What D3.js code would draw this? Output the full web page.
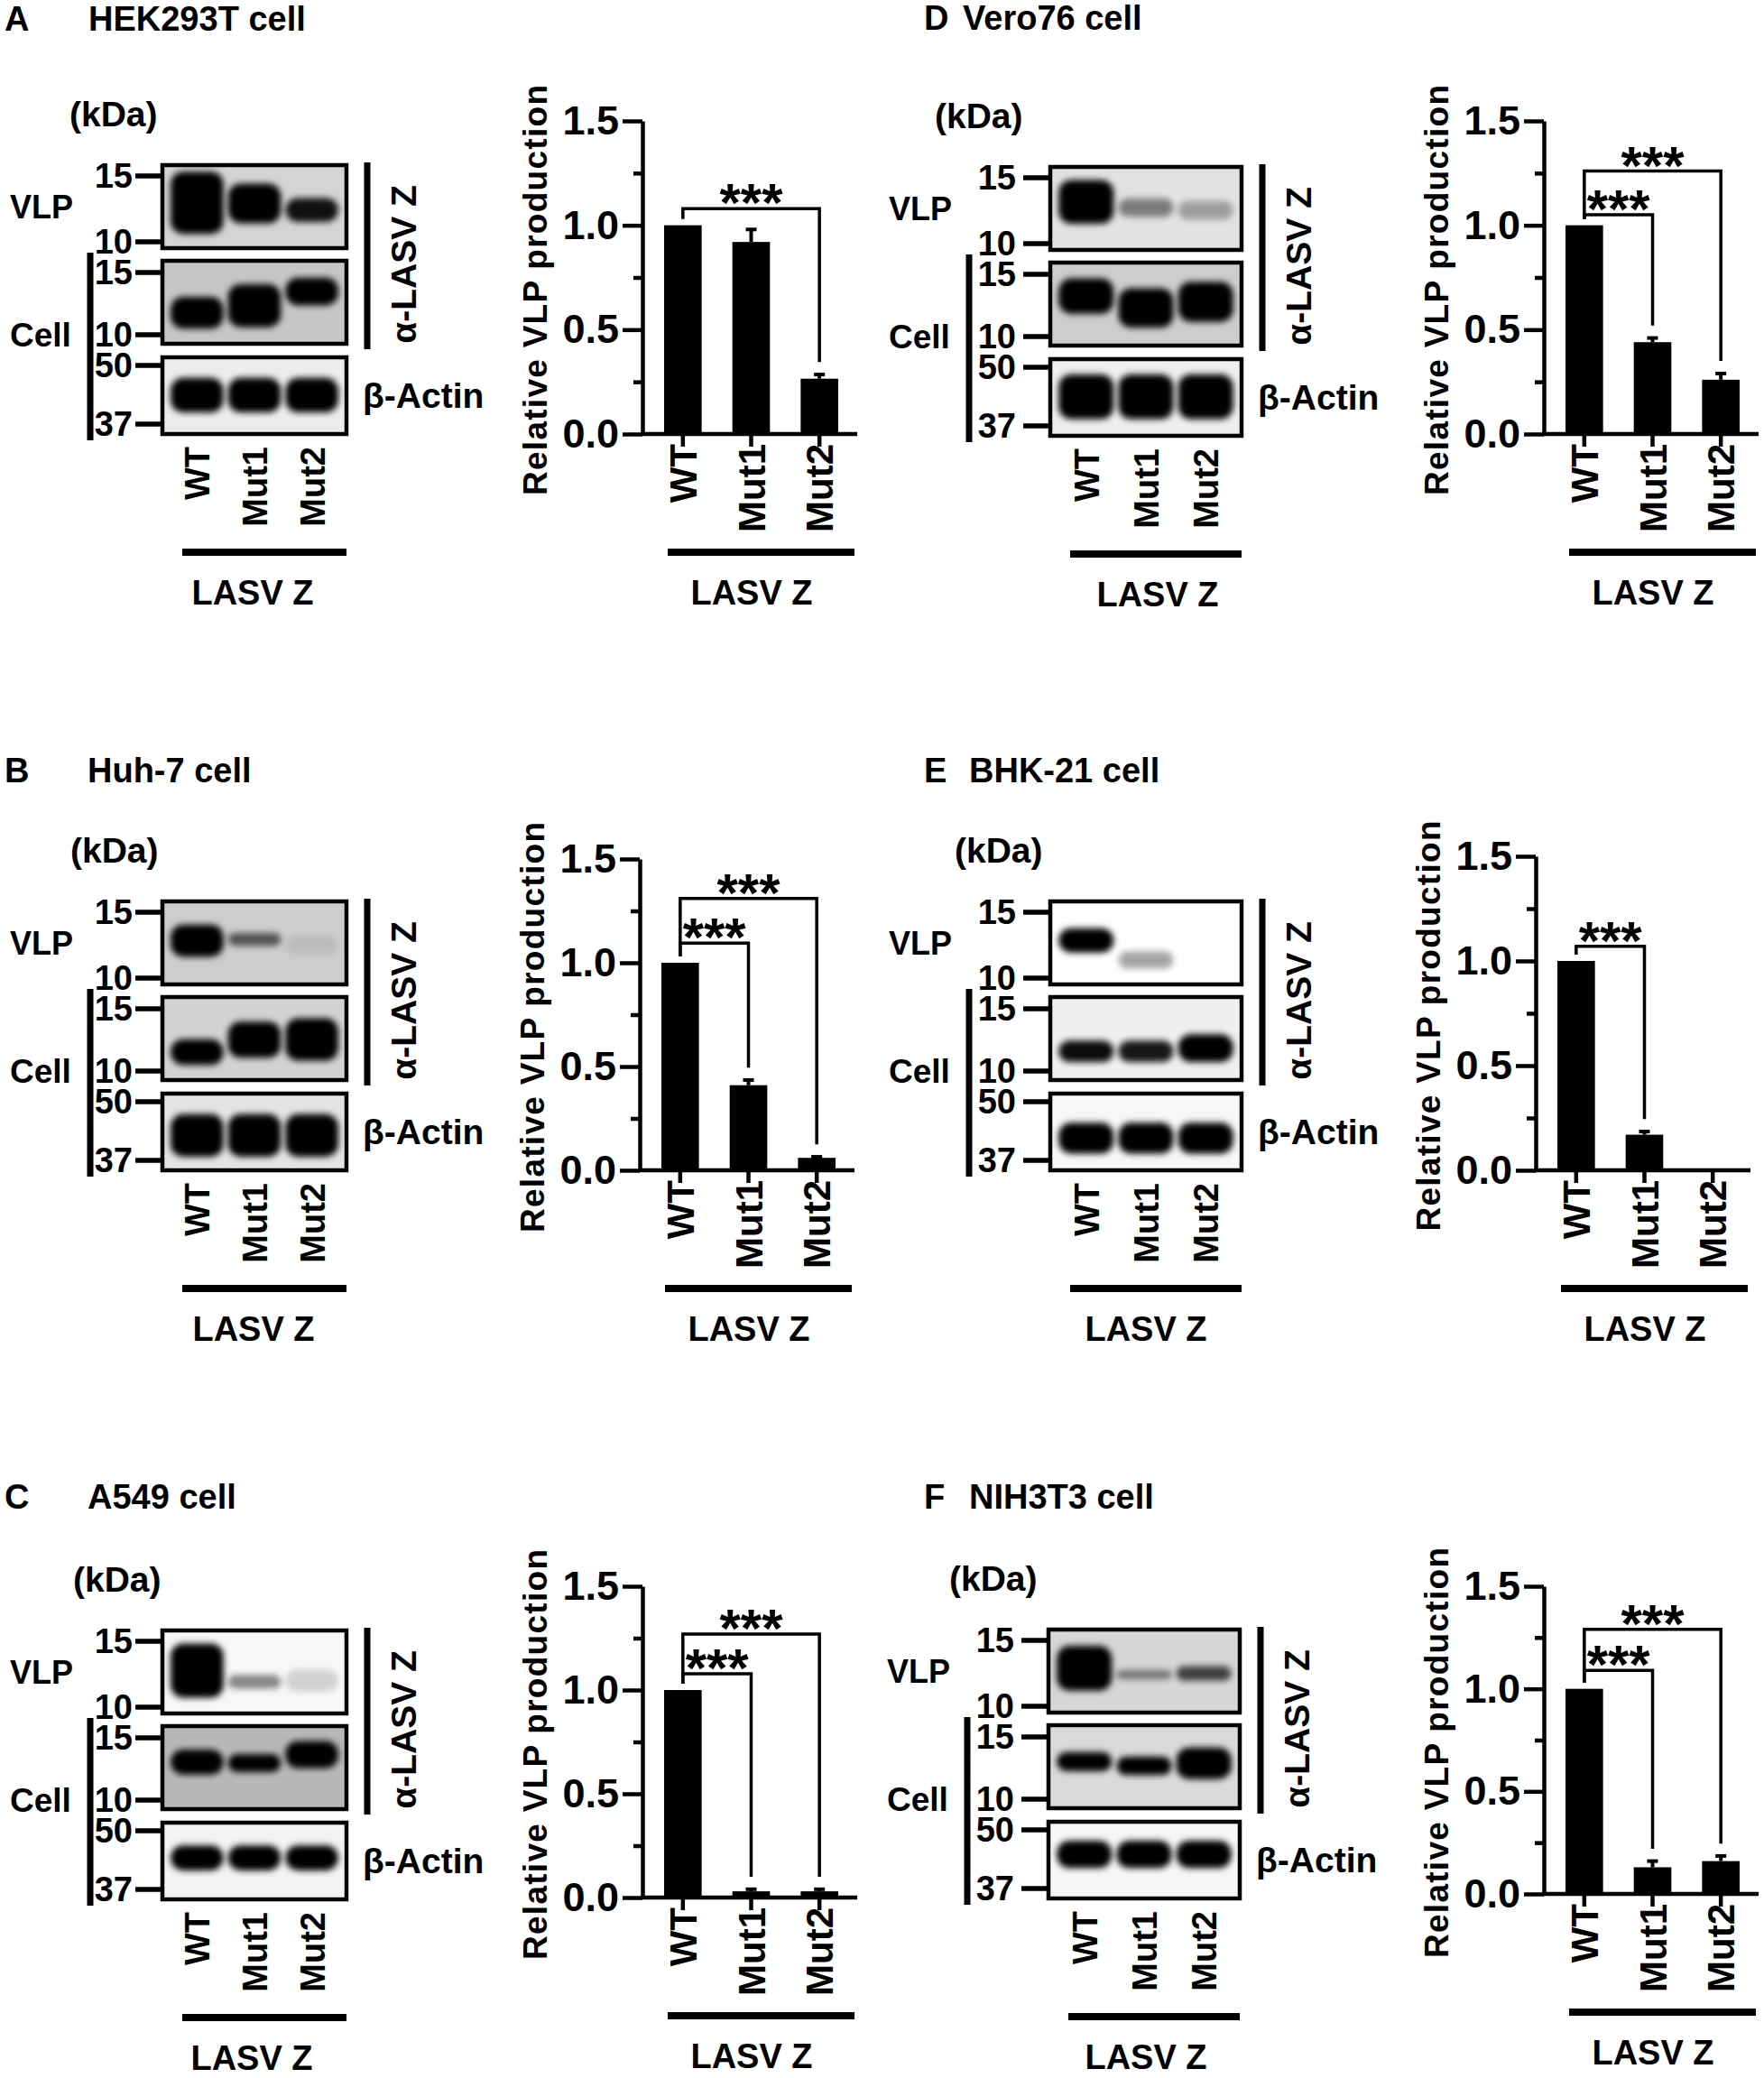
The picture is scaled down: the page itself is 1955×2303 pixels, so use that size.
<!DOCTYPE html>
<html>
<head>
<meta charset="utf-8">
<script src="https://cdn.jsdelivr.net/npm/d3@7"></script>
<style>
    body { margin: 0; background: #fff; }
    svg { display: block; }
    text { font-family: "Liberation Sans", Arial, sans-serif; font-weight: bold; fill: #000; }
</style>
</head>
<body>
<div id="figure"></div>
<script>
// ---- data ----
const lanes = ["WT", "Mut1", "Mut2"];
const panelLetters = ["A", "B", "C", "D", "E", "F"];
const cellLines = ["HEK293T cell", "Huh-7 cell", "A549 cell", "Vero76 cell", "BHK-21 cell", "NIH3T3 cell"];
const groupLabel = "LASV Z";

// relative VLP production (mean, error)
const vlpMean = [
    [1, 0.92, 0.265],
    [1, 0.41, 0.06],
    [1, 0.03, 0.03],
    [1, 0.44, 0.26],
    [1, 0.17, 0],
    [1, 0.13, 0.16]
];
const vlpErr = [
    [0, 0.06, 0.02],
    [0, 0.025, 0.005],
    [0, 0.01, 0.01],
    [0, 0.02, 0.03],
    [0, 0.015, 0],
    [0, 0.03, 0.025]
];
// [from lane, to lane, bracket level]
const comparisons = [
    [[0, 2, 1.08]],
    [[0, 1, 1.095], [0, 2, 1.31]],
    [[0, 1, 1.078], [0, 2, 1.27]],
    [[0, 1, 1.05], [0, 2, 1.26]],
    [[0, 1, 1.07]],
    [[0, 1, 1.09], [0, 2, 1.29]]
];
const signif = "***";
const yTicks = [0, 0.5, 1.0, 1.5];
const yMinorTicks = [0.25, 0.75, 1.25];

// western blots: markers (kDa) and bands per lane [top kDa, bottom kDa, intensity]
const zMarkers = [15, 10];
const actinMarkers = [50, 37];
const vlpBands = [
    [[15.4, 10.5, 1], [14.3, 11.2, 1], [13.1, 11.3, 0.92]],
    [[13.9, 11.4, 1], [13.2, 12.2, 0.6], [13.0, 11.6, 0.08]],
    [[14.8, 10.6, 1], [12.2, 11.2, 0.45], [12.6, 11.0, 0.15]],
    [[14.8, 11.3, 1], [13.2, 11.8, 0.45], [13.0, 11.6, 0.3]],
    [[13.6, 11.7, 1], [11.8, 10.6, 0.35], [12.0, 11.0, 0]],
    [[14.5, 11.0, 1], [12.5, 11.8, 0.45], [12.8, 11.7, 0.7]]
];
const cellBands = [
    [[12.8, 10.4, 1], [13.9, 10.5, 1], [14.5, 12.1, 1]],
    [[12.3, 10.4, 1], [13.8, 10.9, 1], [14.1, 10.7, 1]],
    [[13.9, 11.8, 1], [13.5, 12.0, 1], [14.7, 12.3, 1]],
    [[14.6, 11.6, 1], [13.7, 10.6, 1], [14.3, 11.0, 1]],
    [[12.2, 10.6, 0.95], [12.2, 10.6, 0.9], [12.7, 10.6, 1]],
    [[13.6, 12.0, 1], [13.2, 11.7, 1], [14.0, 11.4, 1]]
];
const actinBands = [
    [[46.9, 39.3, 1], [46.9, 39.3, 1], [46.9, 39.3, 1]],
    [[46.9, 37.7, 1], [46.9, 37.7, 1], [46.9, 37.7, 1]],
    [[46.4, 40.8, 1], [46.4, 40.8, 1], [46.4, 40.8, 1]],
    [[48.2, 38.3, 1], [48.2, 38.3, 1], [48.2, 38.3, 1]],
    [[44.9, 38.3, 1], [44.9, 38.3, 1], [44.9, 38.3, 1]],
    [[47.3, 41.1, 1], [47.3, 41.1, 1], [47.3, 41.1, 1]]
];

// ---- layout / style ----
const panels = [
    {ox: 0, oy: 0, titleY: 34, letterX: 5, titleX: 98, kdaX: 77, boxW: 204, shift: 0, lasvDx: 100, axisX: 712, top: 134, bot: 481},
    {ox: 0, oy: 816, titleY: 867, letterX: 5, titleX: 97, kdaX: 78, boxW: 204, shift: 0, lasvDx: 101, axisX: 709, top: 952, bot: 1297},
    {ox: 0, oy: 1624, titleY: 1672, letterX: 5, titleX: 97, kdaX: 81, boxW: 204, shift: 0, lasvDx: 99, axisX: 712, top: 1758, bot: 2103},
    {ox: 984, oy: 2, titleY: 33, letterX: 1024, titleX: 1067, kdaX: 1036, boxW: 212, shift: -10, lasvDx: 119, axisX: 1711, top: 134, bot: 481},
    {ox: 984, oy: 816, titleY: 867, letterX: 1024, titleX: 1074, kdaX: 1058, boxW: 212, shift: -10, lasvDx: 106, axisX: 1702, top: 949, bot: 1297},
    {ox: 982, oy: 1623, titleY: 1672, letterX: 1024, titleX: 1074, kdaX: 1052, boxW: 212, shift: -10, lasvDx: 108, axisX: 1711, top: 1758, bot: 2099}
];
const blotShade = [
    ["#d4d4d4", "#c6c6c6", "#ececec"],
    ["#cdcdcd", "#d2d2d2", "#e4e4e4"],
    ["#f7f7f7", "#b8b8b8", "#f3f3f3"],
    ["#e2e2e2", "#cdcdcd", "#eeeeee"],
    ["#ffffff", "#efefef", "#f7f7f7"],
    ["#d6d6d6", "#dadada", "#f6f6f6"]
];
// strip boxes relative to panel top; marker y positions give the kDa scale
const strips = [
    {y0: 183, y1: 275, markers: zMarkers, my: [195, 268], bands: vlpBands},
    {y0: 289, y1: 381, markers: zMarkers, my: [302, 371], bands: cellBands},
    {y0: 396, y1: 481, markers: actinMarkers, my: [405, 470], bands: actinBands}
];

const svg = d3.select("#figure").append("svg")
    .attr("width", 1955)
    .attr("height", 2303);

svg.append("rect").attr("width", 1955).attr("height", 2303).attr("fill", "#fff");

svg.append("defs").append("filter")
    .attr("id", "blur")
    .attr("x", "-30%").attr("y", "-60%").attr("width", "160%").attr("height", "220%")
    .append("feGaussianBlur").attr("stdDeviation", 3.5);

function text(g, x, y, str, size, anchor) {
    return g.append("text")
        .attr("x", x).attr("y", y)
        .attr("font-size", size)
        .attr("text-anchor", anchor || "start")
        .text(str);
}

function vtext(g, x, y, str, size, anchor) {
    return g.append("text")
        .attr("transform", "translate(" + x + "," + y + ") rotate(-90)")
        .attr("font-size", size)
        .attr("text-anchor", anchor || "middle")
        .text(str);
}

function bar(g, x1, y1, x2, y2, w) {
    g.append("line")
        .attr("x1", x1).attr("y1", y1).attr("x2", x2).attr("y2", y2)
        .attr("stroke", "#000").attr("stroke-width", w);
}

panels.forEach(function (p, i) {
    const g = svg.append("g").attr("class", "panel-" + panelLetters[i]);

    // title
    text(g, p.letterX, p.titleY, panelLetters[i], 38);
    text(g, p.titleX, p.titleY, cellLines[i], 38);

    // ---------- western blot ----------
    const bx0 = p.ox + 180;
    const bx1 = bx0 + p.boxW;
    const lane = d3.scaleBand().domain(lanes).range([bx0 + 4, bx1 - 4]).padding(0.08);

    text(g, p.kdaX, p.oy + 140, "(kDa)", 39);
    text(g, p.ox + 11 + p.shift, p.oy + 242, "VLP", 36);
    text(g, p.ox + 11 + p.shift, p.oy + 384, "Cell", 37);

    strips.forEach(function (s, k) {
        const ys = d3.scaleLog().domain(s.markers).range([p.oy + s.my[0], p.oy + s.my[1]]);
        const clipId = "clip-" + i + "-" + k;
        g.append("clipPath").attr("id", clipId)
            .append("rect")
            .attr("x", bx0).attr("y", p.oy + s.y0)
            .attr("width", p.boxW).attr("height", s.y1 - s.y0);

        const strip = g.append("g").attr("clip-path", "url(#" + clipId + ")");
        strip.append("rect")
            .attr("x", bx0).attr("y", p.oy + s.y0)
            .attr("width", p.boxW).attr("height", s.y1 - s.y0)
            .attr("fill", blotShade[i][k]);

        strip.selectAll("rect.band")
            .data(s.bands[i])
            .join("rect")
            .attr("class", "band")
            .attr("x", (d, j) => lane(lanes[j]))
            .attr("width", lane.bandwidth())
            .attr("y", d => ys(d[0]))
            .attr("height", d => ys(d[1]) - ys(d[0]))
            .attr("rx", d => Math.min(14, (ys(d[1]) - ys(d[0])) / 2))
            .attr("fill", "#000")
            .attr("opacity", d => d[2])
            .attr("filter", "url(#blur)");

        g.append("rect")
            .attr("x", bx0).attr("y", p.oy + s.y0)
            .attr("width", p.boxW).attr("height", s.y1 - s.y0)
            .attr("fill", "none").attr("stroke", "#000").attr("stroke-width", 4.5);

        s.markers.forEach(function (m) {
            bar(g, bx0 - 30, ys(m), bx0, ys(m), 5.5);
            text(g, bx0 - 33 + p.shift / 2, ys(m) + 13, m, 38, "end");
        });
    });

    // brackets beside the blot
    bar(g, p.ox + 100 + p.shift, p.oy + 280, p.ox + 100 + p.shift, p.oy + 488, 7);
    bar(g, bx1 + 23, p.oy + 180, bx1 + 23, p.oy + 387, 7);
    vtext(g, bx1 + 77, p.oy + 293, "\u03b1-LASV Z", 39);
    text(g, bx1 + 18, p.oy + 452, "\u03b2-Actin", 39);

    lanes.forEach(function (l) {
        vtext(g, lane(l) + lane.bandwidth() / 2 + 14, p.oy + 495, l, 38, "end");
    });
    bar(g, bx0 + 22, p.oy + 612, bx1, p.oy + 612, 8);
    text(g, bx0 + p.lasvDx, p.oy + 670, groupLabel, 38, "middle");

    // ---------- bar chart ----------
    const y = d3.scaleLinear().domain([0, 1.5]).range([p.bot, p.top]);
    const x = d3.scaleBand().domain(lanes)
        .range([p.axisX + 7, p.axisX + 234])
        .paddingInner(0.45).paddingOuter(0.225);
    const cx = l => x(l) + x.bandwidth() / 2;

    const chart = g.append("g").attr("class", "chart");

    chart.selectAll("rect.bar")
        .data(vlpMean[i])
        .join("rect")
        .attr("class", "bar")
        .attr("x", (d, j) => x(lanes[j]))
        .attr("width", x.bandwidth())
        .attr("y", d => y(d))
        .attr("height", d => p.bot - y(d))
        .attr("fill", "#000");

    vlpErr[i].forEach(function (e, j) {
        if (e <= 0) return;
        const c = cx(lanes[j]);
        const v = vlpMean[i][j];
        bar(chart, c, y(v), c, y(v + e), 4);
        bar(chart, c - 6, y(v + e), c + 6, y(v + e), 4);
    });

    const yAxis = chart.append("g")
        .attr("transform", "translate(" + p.axisX + ",0)")
        .call(d3.axisLeft(y).tickValues(yTicks).tickFormat(d3.format(".1f"))
            .tickSize(22).tickSizeOuter(0).tickPadding(4))
        .attr("font-size", 45)
        .attr("font-family", null);
    yAxis.selectAll("line, path").attr("stroke-width", 4.5);

    chart.append("g")
        .attr("transform", "translate(" + p.axisX + ",0)")
        .call(d3.axisLeft(y).tickValues(yMinorTicks).tickFormat("").tickSize(10).tickSizeOuter(0))
        .call(a => a.select(".domain").remove())
        .selectAll("line").attr("stroke-width", 4.5);

    const xAxis = chart.append("g")
        .attr("transform", "translate(0," + p.bot + ")")
        .call(d3.axisBottom(x).tickFormat("").tickSize(14).tickSizeOuter(0));
    xAxis.select(".domain").remove();
    xAxis.selectAll("line").attr("stroke-width", 4.5);
    bar(chart, p.axisX - 2, p.bot, p.axisX + 238, p.bot, 4.5);

    // significance brackets
    comparisons[i].forEach(function (c) {
        const x1 = cx(lanes[c[0]]);
        const x2 = cx(lanes[c[1]]);
        const leftEnd = y(vlpMean[i][c[0]] + vlpErr[i][c[0]] + 0.03);
        const rightEnd = y(vlpMean[i][c[1]] + vlpErr[i][c[1]] + 0.06);
        chart.append("path")
            .attr("d", "M" + x1 + "," + leftEnd + "V" + y(c[2]) + "H" + x2 + "V" + rightEnd)
            .attr("fill", "none")
            .attr("stroke", "#000")
            .attr("stroke-width", 3.5);
        text(chart, (x1 + x2) / 2, y(c[2]) + 14, signif, 60, "middle");
    });

    vtext(chart, p.axisX - 106, (p.top + p.bot) / 2 + 14, "Relative VLP production", 37)
        .attr("textLength", 455)
        .attr("lengthAdjust", "spacing");

    lanes.forEach(function (l) {
        vtext(chart, cx(l) + 15, p.bot + 11, l, 42, "end");
    });
    bar(chart, p.axisX + 28, p.bot + 131, p.axisX + 235, p.bot + 131, 8);
    text(chart, p.axisX + 121, p.bot + 189, groupLabel, 38, "middle");
});
</script>
</body>
</html>
